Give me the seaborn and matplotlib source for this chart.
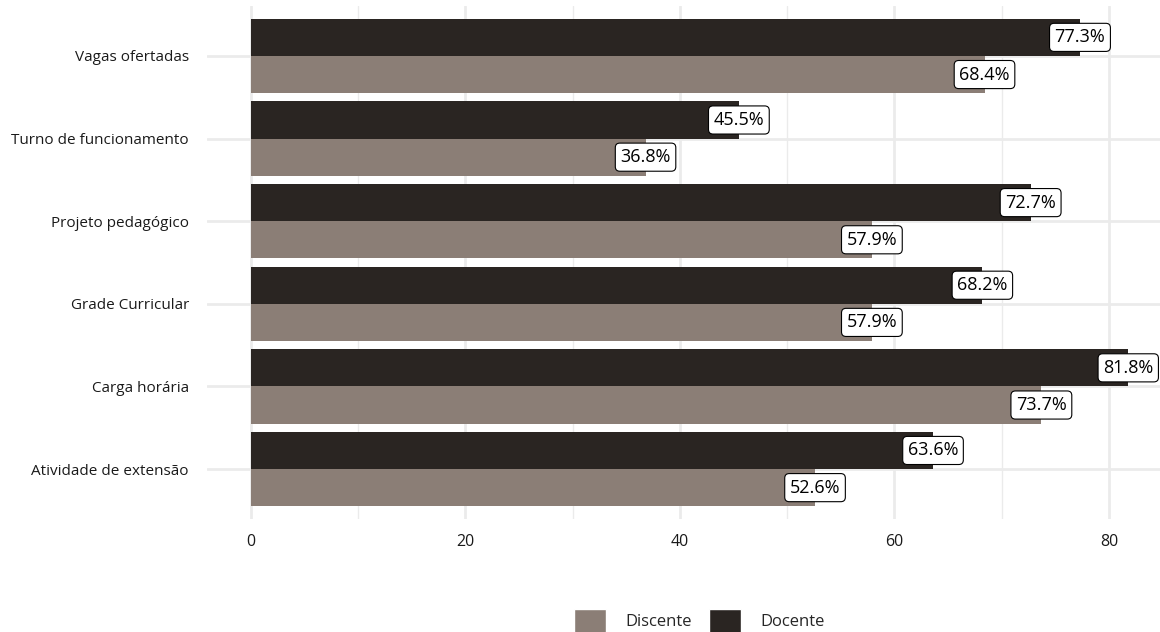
import pandas as pd
import matplotlib.pyplot as plt
import seaborn as sns
from matplotlib.patches import Patch

categorias = ["Vagas ofertadas", "Turno de funcionamento", "Projeto pedagógico",
              "Grade Curricular", "Carga horária", "Atividade de extensão"]
docente = [77.3, 45.5, 72.7, 68.2, 81.8, 63.6]
discente = [68.4, 36.8, 57.9, 57.9, 73.7, 52.6]
grupos = ["Docente", "Discente"]
cores = {"Docente": "#2a2522", "Discente": "#8b7e76"}

df = pd.DataFrame({
    "item": categorias * 2,
    "grupo": ["Docente"] * len(categorias) + ["Discente"] * len(categorias),
    "pct": docente + discente,
})

sns.set_theme(style="white")
plt.rcParams["font.family"] = ["Open Sans", "DejaVu Sans"]

fig = plt.figure(figsize=(11.6, 6.32), dpi=100)
ax = fig.add_axes([0.1784, 0.1794, 0.8216, 0.8105])

sns.barplot(data=df, y="item", x="pct", hue="grupo", hue_order=grupos,
            order=categorias, palette=cores, orient="h", width=0.9,
            gap=0, saturation=1, legend=False, linewidth=0, ax=ax)

# labels at bar ends
for cont in ax.containers:
    for p in cont:
        w = p.get_width()
        ax.text(w, p.get_y() + p.get_height() / 2, f"{w:.1f}%",
                ha="center", va="center", fontsize=13, color="black",
                bbox=dict(boxstyle="round,pad=0.28,rounding_size=0.25",
                          fc="white", ec="black", lw=0.8), zorder=5)

ax.set_xlim(-4.09, 84.76)
ax.set_ylim(5.6, -0.6)
ax.set_xticks([0, 20, 40, 60, 80])
ax.set_xticks([10, 30, 50, 70], minor=True)
ax.grid(True, which="major", color="#ebebeb", lw=2.0, zorder=0)
ax.grid(True, which="minor", axis="x", color="#ebebeb", lw=1.0, zorder=0)
ax.set_axisbelow(True)
for s in ax.spines.values():
    s.set_visible(False)
ax.tick_params(axis="both", length=0, labelcolor="#1a1a1a")
ax.tick_params(axis="y", pad=13, labelsize=11)
ax.tick_params(axis="x", pad=11, labelsize=11.5)
ax.set_xlabel("")
ax.set_ylabel("")

handles = [Patch(facecolor=cores["Discente"], label="Discente"),
           Patch(facecolor=cores["Docente"], label="Docente")]
fig.legend(handles=handles, loc="center", bbox_to_anchor=(0.603, 1 - 621 / 632),
           ncol=2, frameon=False, fontsize=12, handlelength=1.9, handleheight=1.9,
           handletextpad=1.2, columnspacing=1.0)

fig.savefig("out.png", dpi=100)
